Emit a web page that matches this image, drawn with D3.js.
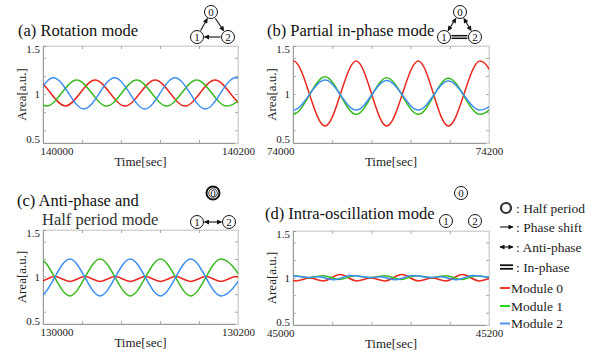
<!DOCTYPE html>
<html>
<head>
<meta charset="utf-8">
<script src="https://cdn.jsdelivr.net/npm/d3@7"></script>
<style>
  body { margin: 0; background: #fff; }
  svg { display: block; }
</style>
</head>
<body>
<svg id="chart" width="606" height="359" font-family="'Liberation Serif', 'DejaVu Serif', serif"></svg>
<script>
// values: [time (sec), area (a.u.)] at peaks / troughs of each module

// (a) rotation mode
const rotRed = [[139961.7, 0.868], [139992.5, 1.154], [140023, 0.868], [140053.3, 1.154], [140084.1, 0.868],
  [140115, 1.154], [140145.7, 0.868], [140176.4, 1.154], [140207.3, 0.868], [140238, 1.154]];
const rotGreen = [[139942, 0.868], [139972.9, 1.154], [140003.7, 0.868], [140034.5, 1.154], [140065.3, 0.868],
  [140096, 1.154], [140126.8, 0.868], [140157.6, 1.154], [140188.4, 0.868], [140219.2, 1.154]];
const rotBlue = [[139949, 1.18], [139979.5, 0.835], [140010.6, 1.18], [140042, 0.835], [140073.5, 1.18],
  [140104.5, 0.835], [140135.4, 1.18], [140166.5, 0.835], [140197.5, 1.18], [140228.5, 0.835]];

// (b) partial in-phase mode
const phRed = [[73938, 1.364], [73969, 0.647], [74000.5, 1.364], [74032.7, 0.647], [74064.5, 1.364],
  [74095.6, 0.647], [74127.9, 1.364], [74158.5, 0.647], [74190.8, 1.364], [74222, 0.647]];
const phGreen = [[73938, 0.776], [73969, 1.19], [74000, 0.776], [74032.7, 1.19], [74064.5, 0.776],
  [74095.6, 1.18], [74127.9, 0.776], [74158.5, 1.175], [74190.8, 0.776], [74222, 1.175]];
const phBlue = [[73938, 0.823], [73969, 1.154], [74000, 0.823], [74032.7, 1.154], [74064.5, 0.823],
  [74095.6, 1.15], [74127.9, 0.823], [74158.5, 1.145], [74190.8, 0.823], [74222, 1.145]];

// (c) anti-phase and half period mode
const apRed = [[129965.5, 0.945], [129981, 1.0], [129996.5, 0.945], [130012, 1.0], [130027.5, 0.945],
  [130043, 1.0], [130058.5, 0.945], [130074, 1.0], [130089.5, 0.945], [130105, 1.0], [130120.5, 0.945],
  [130136, 1.0], [130151.5, 0.945], [130167, 1.0], [130182.5, 0.945], [130198, 1.0], [130213.5, 0.945]];
const apGreen = [[129965.5, 0.78], [129996.5, 1.2], [130027.5, 0.78], [130058.5, 1.2], [130089.5, 0.78],
  [130120.5, 1.2], [130151.5, 0.78], [130182.5, 1.2], [130213.5, 0.78]];
const apBlue = [[129965.5, 1.2], [129996.5, 0.78], [130027.5, 1.2], [130058.5, 0.78], [130089.5, 1.2],
  [130120.5, 0.78], [130151.5, 1.2], [130182.5, 0.78], [130213.5, 1.2]];

// (d) intra-oscillation mode
const ioRed = [[44969, 0.962], [44986, 1.034], [45003, 0.962], [45017, 0.995], [45031, 0.962], [45048, 1.034],
  [45065, 0.962], [45079.5, 0.995], [45094, 0.962], [45111, 1.034], [45128, 0.962], [45142, 0.995],
  [45156, 0.962], [45173, 1.034], [45190, 0.962], [45204, 0.995], [45218, 0.962]];
const ioGreen = [[44969, 1.022], [44985, 0.978], [45001, 1.02], [45017, 1.0], [45031, 1.022], [45047, 0.978],
  [45063, 1.02], [45079.5, 1.0], [45094, 1.022], [45110, 0.978], [45126, 1.02], [45142, 1.0],
  [45156, 1.022], [45172, 0.978], [45188, 1.02], [45204, 1.0], [45218, 1.022]];
const ioBlue = [[44964, 1.01], [44980, 0.975], [44996, 1.024], [45017, 1.0], [45026, 1.01], [45042, 0.975],
  [45058, 1.024], [45079.5, 1.0], [45089, 1.01], [45105, 0.975], [45121, 1.024], [45142, 1.0],
  [45151, 1.01], [45167, 0.975], [45183, 1.024], [45204, 1.0], [45213, 1.01]];

const timeStarts = [140000, 74000, 130000, 45000];
const timeSpan = 200;
const xMinorStep = 40;
const yTickLabels = [0.5, 1, 1.5];
const yMinorTicks = [0.6, 0.8, 1.0, 1.2, 1.4];
const moduleNames = ['Module 0', 'Module 1', 'Module 2'];
const keyNames = [': Half period', ': Phase shift', ': Anti-phase', ': In-phase'];

const lineColors = ['#e9291f', '#3cba22', '#3c8ef0'];
const keyColors = ['#f53a2e', '#22d622', '#4f93f5'];
const FONT = "'Liberation Serif', 'DejaVu Serif', serif";

const panels = [
  { title: ['(a) Rotation mode'], tx: [18], ty: [36], series: [rotRed, rotGreen, rotBlue],
    x0: 43, x1: 238, y0: 46, y1: 143, leftLab: 'start' },
  { title: ['(b) Partial in-phase mode'], tx: [267], ty: [36], series: [phRed, phGreen, phBlue],
    x0: 293, x1: 489, y0: 46, y1: 143, leftLab: 'end' },
  { title: ['(c) Anti-phase and', 'Half period mode'], tx: [17, 42], ty: [206, 225], series: [apRed, apGreen, apBlue],
    x0: 43, x1: 238, y0: 230, y1: 324, leftLab: 'start' },
  { title: ['(d) Intra-oscillation mode'], tx: [265], ty: [219], series: [ioRed, ioGreen, ioBlue],
    x0: 293, x1: 489, y0: 231, y1: 325, leftLab: 'end' }
];

const svg = d3.select('#chart');
const defs = svg.append('defs');
defs.append('marker')
  .attr('id', 'ah')
  .attr('viewBox', '0 0 10 10')
  .attr('refX', 9).attr('refY', 5)
  .attr('markerUnits', 'userSpaceOnUse')
  .attr('markerWidth', 6).attr('markerHeight', 5)
  .attr('orient', 'auto-start-reverse')
  .append('path').attr('d', 'M0,0L10,5L0,10z').attr('fill', '#111');

function label(sel, size, fill) {
  return sel.attr('font-family', FONT).attr('font-size', size).attr('fill', fill || '#222');
}

panels.forEach(function(p, i) {
  const t0 = timeStarts[i];
  const x = d3.scaleLinear().domain([t0, t0 + timeSpan]).range([p.x0, p.x1]);
  const y = d3.scaleLinear().domain([0.46, 1.53]).range([p.y1, p.y0]);
  const g = svg.append('g');

  defs.append('clipPath').attr('id', 'clip' + i)
    .append('rect').attr('x', p.x0).attr('y', p.y0)
    .attr('width', p.x1 - p.x0).attr('height', p.y1 - p.y0);

  // frame
  g.append('rect').attr('x', p.x0).attr('y', p.y0)
    .attr('width', p.x1 - p.x0).attr('height', p.y1 - p.y0)
    .attr('fill', 'none').attr('stroke', '#d4d4d4');

  // inner ticks
  const minor = d3.range(t0, t0 + timeSpan + 1, xMinorStep);
  [['bottom', p.y1, d3.axisBottom], ['top', p.y0, d3.axisTop]].forEach(function(a) {
    g.append('g').attr('transform', 'translate(0,' + a[1] + ')')
      .call(a[2](x).tickValues(minor).tickSize(-3).tickFormat(''))
      .call(s => s.select('.domain').attr('stroke', a[0] === 'bottom' ? '#999' : '#d4d4d4'))
      .call(s => s.selectAll('line').attr('stroke', '#aaa'));
  });
  [['left', p.x0, d3.axisLeft], ['right', p.x1, d3.axisRight]].forEach(function(a) {
    g.append('g').attr('transform', 'translate(' + a[1] + ',0)')
      .call(a[2](y).tickValues(yMinorTicks).tickSize(-3).tickFormat(''))
      .call(s => s.select('.domain').attr('stroke', a[0] === 'left' ? '#999' : '#d4d4d4'))
      .call(s => s.selectAll('line').attr('stroke', '#aaa'));
  });

  // tick labels
  g.append('g').attr('transform', 'translate(0,' + p.y1 + ')')
    .call(d3.axisBottom(x).tickValues([t0, t0 + timeSpan]).tickSize(0).tickPadding(4).tickFormat(d3.format('d')))
    .attr('font-family', FONT).attr('font-size', 11)
    .call(s => s.select('.domain').remove())
    .call(s => s.selectAll('text').attr('fill', '#222'))
    .call(s => s.selectAll('.tick').filter(d => d === t0).select('text')
      .attr('text-anchor', p.leftLab).attr('dx', p.leftLab === 'start' ? -3 : 1));
  g.append('g').attr('transform', 'translate(' + (p.x0 - 3) + ',0)')
    .call(d3.axisLeft(y).tickValues(yTickLabels).tickSize(0).tickPadding(0).tickFormat(d3.format('')))
    .attr('font-family', FONT).attr('font-size', 11)
    .call(s => s.select('.domain').remove())
    .call(s => s.selectAll('text').attr('fill', '#222'));

  // axis titles
  label(g.append('text'), 13).attr('x', (p.x0 + p.x1) / 2).attr('y', p.y1 + 23)
    .attr('text-anchor', 'middle').text('Time[sec]');
  label(g.append('text'), 13)
    .attr('transform', 'translate(' + (p.x0 - 17) + ',' + ((p.y0 + p.y1) / 2) + ') rotate(-90)')
    .attr('text-anchor', 'middle').text('Area[a.u.]');

  // panel title
  p.title.forEach(function(t, k) {
    label(g.append('text'), 16.5, k === 1 ? '#333' : '#111')
      .attr('x', p.tx[k]).attr('y', p.ty[k]).text(t);
  });

  // lines
  const line = d3.line().x(d => x(d[0])).y(d => y(d[1])).curve(d3.curveMonotoneX);
  const lg = g.append('g').attr('clip-path', 'url(#clip' + i + ')');
  p.series.forEach(function(s, k) {
    lg.append('path').datum(s).attr('d', line)
      .attr('fill', 'none').attr('stroke', lineColors[k]).attr('stroke-width', 1.5);
  });
});

// module diagrams
const R = 6.5;
function nodes(pts, thick0) {
  const g = svg.append('g');
  pts.forEach(function(pt, k) {
    g.append('circle').attr('cx', pt[0]).attr('cy', pt[1]).attr('r', R)
      .attr('fill', '#fff').attr('stroke', '#111').attr('stroke-width', (k === 0 && thick0) ? 2 : 1);
    if (k === 0 && thick0) {
      g.append('circle').attr('cx', pt[0]).attr('cy', pt[1]).attr('r', R - 2.2)
        .attr('fill', 'none').attr('stroke', '#111').attr('stroke-width', 0.8);
    }
    label(g.append('text'), 11, '#111').attr('x', pt[0]).attr('y', pt[1] + 3.8)
      .attr('text-anchor', 'middle').text(k);
  });
  return g;
}
function edge(a, b, both) {
  const dx = b[0] - a[0], dy = b[1] - a[1], L = Math.hypot(dx, dy);
  const ux = dx / L, uy = dy / L, o = R + 1;
  const l = svg.append('line')
    .attr('x1', a[0] + ux * o).attr('y1', a[1] + uy * o)
    .attr('x2', b[0] - ux * o).attr('y2', b[1] - uy * o)
    .attr('stroke', '#111').attr('stroke-width', 1.1)
    .attr('marker-end', 'url(#ah)');
  if (both) l.attr('marker-start', 'url(#ah)');
}
function inPhase(a, b) {
  [-1.3, 1.3].forEach(function(off) {
    svg.append('line').attr('x1', a[0] + R + 1).attr('x2', b[0] - R - 1)
      .attr('y1', a[1] + off).attr('y2', b[1] + off)
      .attr('stroke', '#111').attr('stroke-width', 1.5);
  });
}

const da = [[211, 12], [197, 37], [228, 37]];
edge(da[1], da[0]); edge(da[0], da[2]); edge(da[2], da[1]);
nodes(da, false);

const db = [[460, 12], [444, 37], [475, 37]];
edge(db[0], db[1], true); edge(db[0], db[2], true); inPhase(db[1], db[2]);
nodes(db, false);

const dc = [[213, 193], [197, 222], [229, 222]];
edge(dc[1], dc[2], true);
nodes(dc, true);

const dd = [[461, 193], [446, 221], [475, 221]];
nodes(dd, false);

// key
const key = svg.append('g');
const keyY = [208, 227, 247, 267];
key.append('circle').attr('cx', 506).attr('cy', keyY[0]).attr('r', 5)
  .attr('fill', 'none').attr('stroke', '#333').attr('stroke-width', 2.2);
key.append('line').attr('x1', 500).attr('x2', 513).attr('y1', keyY[1]).attr('y2', keyY[1])
  .attr('stroke', '#111').attr('stroke-width', 1.1).attr('marker-end', 'url(#ah)');
key.append('line').attr('x1', 500).attr('x2', 513).attr('y1', keyY[2]).attr('y2', keyY[2])
  .attr('stroke', '#111').attr('stroke-width', 1.1).attr('marker-end', 'url(#ah)').attr('marker-start', 'url(#ah)');
[-1.8, 1.8].forEach(function(off) {
  key.append('line').attr('x1', 500).attr('x2', 513).attr('y1', keyY[3] + off).attr('y2', keyY[3] + off)
    .attr('stroke', '#111').attr('stroke-width', 1.8);
});
keyNames.forEach(function(t, k) {
  label(key.append('text'), 13.5).attr('x', 516).attr('y', keyY[k] + 4.5).text(t);
});

const modY = [288, 306, 323.5];
moduleNames.forEach(function(t, k) {
  key.append('line').attr('x1', 500).attr('x2', 510).attr('y1', modY[k]).attr('y2', modY[k])
    .attr('stroke', keyColors[k]).attr('stroke-width', 2);
  label(key.append('text'), 13.5).attr('x', 511).attr('y', modY[k] + 4.5).text(t);
});
</script>
</body>
</html>
